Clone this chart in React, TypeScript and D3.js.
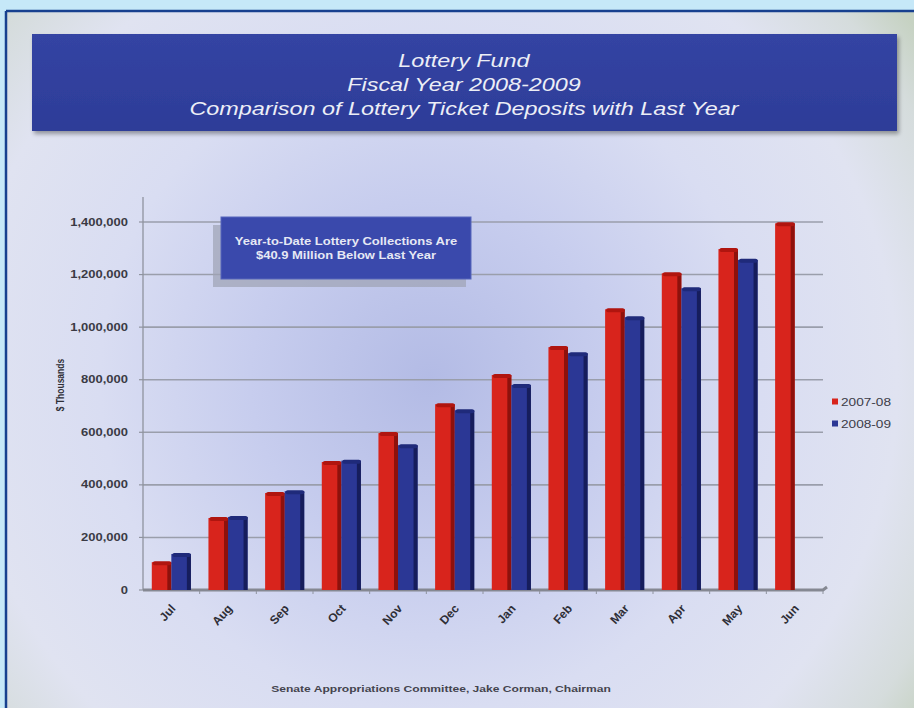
import React from "react";
import * as d3 from "d3";

const months = ["Jul", "Aug", "Sep", "Oct", "Nov", "Dec", "Jan", "Feb", "Mar", "Apr", "May", "Jun"];
const seriesNames = ["2007-08", "2008-09"];
// Cumulative lottery ticket deposits, $ thousands
const fy0708 = [106, 274, 369, 487, 597, 707, 818, 924, 1068, 1205, 1297, 1395].map((v) => v * 1000);
const fy0809 = [137, 278, 376, 492, 551, 684, 780, 901, 1038, 1148, 1256, null].map((v) => (v == null ? null : v * 1000));
const yTicks = [0, 200000, 400000, 600000, 800000, 1000000, 1200000, 1400000];
const titleLines = ["Lottery Fund", "Fiscal Year 2008-2009", "Comparison of Lottery Ticket Deposits with Last Year"];
const noteLines = ["Year-to-Date Lottery Collections Are", "$40.9 Million Below Last Year"];
const footer = "Senate Appropriations Committee, Jake Corman, Chairman";

const W = 914;
const H = 708;
const plot = { left: 143, right: 823, top: 200, bottom: 590 };
const FONT = "'Liberation Sans', Arial, sans-serif";
const SX = 1.3;

const colors = {
  red: "#d8241c",
  redSide: "#8e110c",
  redTop: "#b0150f",
  blue: "#2b3795",
  blueSide: "#161d5c",
  blueTop: "#1f2a7a",
};

export default function App() {
  const x = d3.scaleBand<string>().domain(months).range([plot.left, plot.right]).paddingInner(0.31).paddingOuter(0.155);
  const xs = d3.scaleBand<string>().domain(seriesNames).range([0, x.bandwidth()]).padding(0);
  const y = d3.scaleLinear().domain([0, 1400000]).range([plot.bottom, 222]);
  const fmt = d3.format(",");

  const series = [
    { name: seriesNames[0], values: fy0708, fill: colors.red, side: colors.redSide, top: colors.redTop },
    { name: seriesNames[1], values: fy0809, fill: colors.blue, side: colors.blueSide, top: colors.blueTop },
  ];

  const step = x.step();

  return (
    <svg width={W} height={H} style={{ position: "absolute", left: 0, top: 0 }} fontFamily={FONT}>
      <defs>
        <radialGradient id="bg" gradientUnits="userSpaceOnUse" cx={430} cy={380} r={600}>
          <stop offset="0" stopColor="#b3bbe5" />
          <stop offset="0.3" stopColor="#c7cdee" />
          <stop offset="0.55" stopColor="#d9ddf2" />
          <stop offset="0.78" stopColor="#e0e3f1" />
          <stop offset="0.92" stopColor="#d5dcdc" />
          <stop offset="1" stopColor="#c6d2c2" />
        </radialGradient>
        <linearGradient id="band" x1="0" y1="0" x2="0" y2="1">
          <stop offset="0" stopColor="#3444a3" />
          <stop offset="1" stopColor="#2d3c98" />
        </linearGradient>
        <filter id="shadow" x="-10%" y="-10%" width="130%" height="140%">
          <feGaussianBlur in="SourceAlpha" stdDeviation="2" />
          <feOffset dx="2" dy="3" result="b" />
          <feComponentTransfer>
            <feFuncA type="linear" slope="0.35" />
          </feComponentTransfer>
          <feMerge>
            <feMergeNode />
            <feMergeNode in="SourceGraphic" />
          </feMerge>
        </filter>
      </defs>

      {/* slide frame */}
      <rect x={0} y={0} width={W} height={H} fill="#c6e8f8" />
      <rect x={6} y={11} width={W - 6} height={H - 11} fill="url(#bg)" />
      <line x1={6} y1={11} x2={W} y2={11} stroke="#17408f" strokeWidth={2.5} />
      <line x1={6} y1={11} x2={6} y2={H} stroke="#17408f" strokeWidth={2.5} />

      {/* title band */}
      <rect x={32} y={34} width={865} height={97} fill="url(#band)" filter="url(#shadow)" />
      {titleLines.map((t, i) => (
        <g key={t} transform={`translate(464,${67 + i * 24}) scale(${SX},1)`}>
          <text textAnchor="middle" fontSize={18} fontStyle="italic" fill="#eceef6">
            {t}
          </text>
        </g>
      ))}

      {/* gridlines */}
      {yTicks.slice(1).map((t) => (
        <line key={t} x1={plot.left} x2={plot.right} y1={y(t)} y2={y(t)} stroke="#9a9eab" strokeWidth={1.6} />
      ))}

      {/* y axis */}
      <line x1={plot.left} x2={plot.left} y1={197} y2={plot.bottom} stroke="#8f939e" strokeWidth={1.3} />
      {yTicks.map((t) => (
        <g key={t}>
          <line x1={plot.left - 4} x2={plot.left} y1={y(t)} y2={y(t)} stroke="#8f939e" strokeWidth={1.2} />
          <g transform={`translate(128,${y(t) + 3.5}) scale(${SX},1)`}>
            <text textAnchor="end" fontSize={10} fontWeight="bold" fill="#3a3a44">
              {fmt(t)}
            </text>
          </g>
        </g>
      ))}
      <g transform={`translate(64,385) rotate(-90)`}>
        <text textAnchor="middle" fontSize={8.5} fontWeight="bold" fill="#2e2e36" transform={`scale(1,${SX})`}>
          $ Thousands
        </text>
      </g>

      {/* floor */}
      <path
        d={`M${plot.left},${plot.bottom} L${plot.right},${plot.bottom} L${plot.right + 4},${plot.bottom - 3}`}
        fill="none"
        stroke="#858892"
        strokeWidth={3}
      />
      {months.map((m, i) => (
        <line
          key={m}
          x1={plot.left + step * (i + 1)}
          x2={plot.left + step * (i + 1)}
          y1={plot.bottom + 1}
          y2={plot.bottom + 4}
          stroke="#8f939e"
          strokeWidth={1}
        />
      ))}

      {/* bars */}
      {series.map((s) =>
        months.map((m, i) => {
          const v = s.values[i];
          if (v == null) return null;
          const bx = (x(m) ?? 0) + (xs(s.name) ?? 0);
          const bw = xs.bandwidth();
          const by = y(v);
          const bh = plot.bottom - by;
          return (
            <g key={`${s.name}-${m}`}>
              <rect x={bx} y={by} width={bw} height={bh} fill={s.fill} />
              <rect x={bx + bw - 4} y={by} width={4} height={bh} fill={s.side} />
              <rect x={bx + 1} y={by - 1} width={bw - 1} height={4} rx={2} fill={s.top} />
            </g>
          );
        })
      )}

      {/* month labels */}
      {months.map((m) => {
        const cx = (x(m) ?? 0) + x.bandwidth() / 2;
        return (
          <text
            key={m}
            transform={`translate(${cx + 5},${plot.bottom + 19}) rotate(-48)`}
            textAnchor="end"
            fontSize={12}
            fontWeight="bold"
            fill="#2e2e36"
          >
            {m}
          </text>
        );
      })}

      {/* note box */}
      <rect x={213} y={225} width={253} height={62} fill="#9ea3b4" opacity={0.7} />
      <rect x={221} y={217} width={250} height={62} fill="#3a49ac" stroke="#5666bb" strokeWidth={1} />
      {noteLines.map((t, i) => (
        <g key={t} transform={`translate(346,${245 + i * 14}) scale(${SX},1)`}>
          <text textAnchor="middle" fontSize={10} fontWeight="bold" fill="#e6e8f4">
            {t}
          </text>
        </g>
      ))}

      {/* legend */}
      {series.map((s, i) => (
        <g key={s.name} transform={`translate(832,${402 + i * 22})`}>
          <rect x={0} y={-3.5} width={6} height={6} fill={s.fill} />
          <g transform={`translate(9,4) scale(${SX},1)`}>
            <text fontSize={10.5} fill="#3c3c48">
              {s.name}
            </text>
          </g>
        </g>
      ))}

      {/* footer */}
      <g transform={`translate(441,692) scale(${SX},1)`}>
        <text textAnchor="middle" fontSize={9.3} fontWeight="bold" fill="#44444e">
          {footer}
        </text>
      </g>
    </svg>
  );
}
